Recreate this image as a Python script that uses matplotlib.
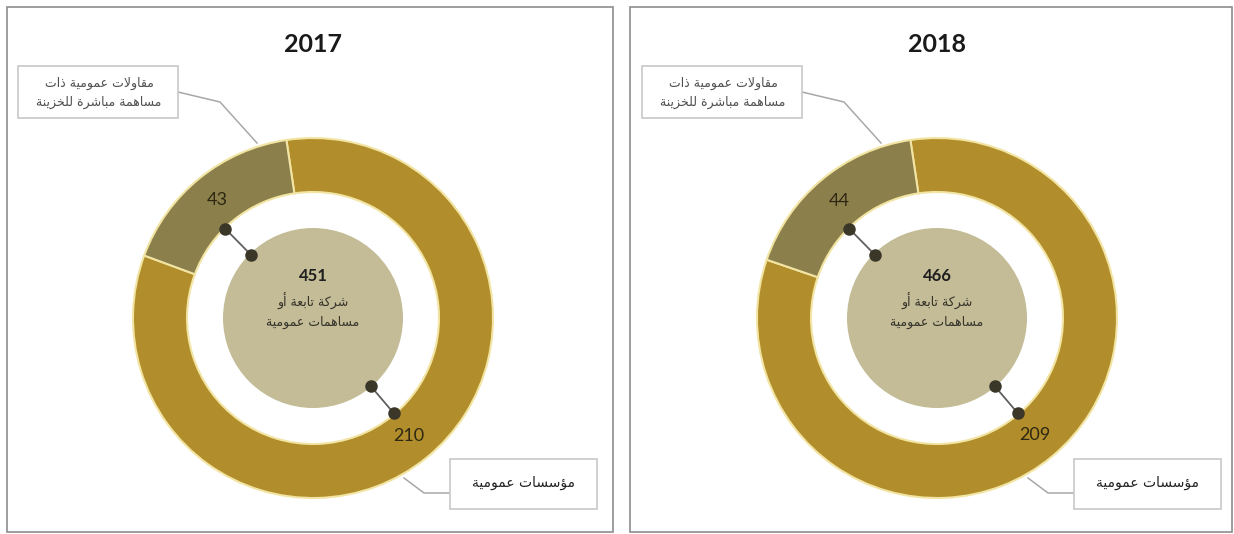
import matplotlib
matplotlib.use("Agg")
import matplotlib.pyplot as plt
from matplotlib.patches import Circle, Rectangle
import math

# ---------------- data ----------------
years = ["2017", "2018"]
ring_labels = ["مؤسسات عمومية", "مقاولات عمومية ذات\nمساهمة مباشرة للخزينة"]
ring_values_2017 = [210, 43]
ring_values_2018 = [209, 44]
center_totals = [451, 466]
center_label = "شركة تابعة أو\nمساهمات عمومية"

# ---------------- simple Arabic shaping (matplotlib has no shaping) ----------------
FORMS = {
    'ا': ('\uFE8D', '\uFE8E', None, None),
    'أ': ('\uFE83', '\uFE84', None, None),
    'ؤ': ('\uFE85', '\uFE86', None, None),
    'ب': ('\uFE8F', '\uFE90', '\uFE91', '\uFE92'),
    'ة': ('\uFE93', '\uFE94', None, None),
    'ت': ('\uFE95', '\uFE96', '\uFE97', '\uFE98'),
    'خ': ('\uFEA5', '\uFEA6', '\uFEA7', '\uFEA8'),
    'ذ': ('\uFEAB', '\uFEAC', None, None),
    'ر': ('\uFEAD', '\uFEAE', None, None),
    'ز': ('\uFEAF', '\uFEB0', None, None),
    'س': ('\uFEB1', '\uFEB2', '\uFEB3', '\uFEB4'),
    'ش': ('\uFEB5', '\uFEB6', '\uFEB7', '\uFEB8'),
    'ع': ('\uFEC9', '\uFECA', '\uFECB', '\uFECC'),
    'ق': ('\uFED5', '\uFED6', '\uFED7', '\uFED8'),
    'ك': ('\uFED9', '\uFEDA', '\uFEDB', '\uFEDC'),
    'ل': ('\uFEDD', '\uFEDE', '\uFEDF', '\uFEE0'),
    'م': ('\uFEE1', '\uFEE2', '\uFEE3', '\uFEE4'),
    'ن': ('\uFEE5', '\uFEE6', '\uFEE7', '\uFEE8'),
    'ه': ('\uFEE9', '\uFEEA', '\uFEEB', '\uFEEC'),
    'و': ('\uFEED', '\uFEEE', None, None),
    'ي': ('\uFEF1', '\uFEF2', '\uFEF3', '\uFEF4'),
    'LA': ('\uFEFB', '\uFEFC', None, None),
}


def shape_line(s):
    toks = []
    i = 0
    while i < len(s):
        if s[i] == 'ل' and i + 1 < len(s) and s[i + 1] == 'ا':
            toks.append('LA')
            i += 2
        else:
            toks.append(s[i])
            i += 1
    out = []
    for k, t in enumerate(toks):
        if t not in FORMS:
            out.append(t)
            continue
        f = FORMS[t]
        prev = toks[k - 1] if k > 0 else None
        nxt = toks[k + 1] if k + 1 < len(toks) else None
        jp = prev in FORMS and FORMS[prev][2] is not None
        jn = nxt in FORMS and f[2] is not None
        if jp and jn:
            g = f[3]
        elif jp:
            g = f[1]
        elif jn:
            g = f[2]
        else:
            g = f[0]
        out.append(g)
    return ''.join(out)[::-1]


def ar(s):
    return '\n'.join(shape_line(line) for line in s.split('\n'))


# ---------------- styling ----------------
W, H = 1234, 534
GOLD = '#B18D2B'
OLIVE = '#8B7F4C'
CENTER = '#C3BC97'
EDGE = '#F2E4A2'
DOT = '#3A3628'
AR_FONT = ['DejaVu Sans']
NUM_FONT = ['Lato', 'DejaVu Sans']

fig = plt.figure(figsize=(W / 100, H / 100), dpi=100)
ax = fig.add_axes([0, 0, 1, 1])


def Y(y):
    return H - y


panels = [
    dict(x0=7, x1=613, cx=313),
    dict(x0=630, x1=1232, cx=937),
]
series = [ring_values_2017, ring_values_2018]

for p, year, vals, total in zip(panels, years, series, center_totals):
    cx, cy = p['cx'], 318
    # panel frame
    ax.add_patch(Rectangle((p['x0'], Y(532)), p['x1'] - p['x0'], 525,
                           fill=False, edgecolor='#8C8C8C', linewidth=1.2))
    # title
    ax.text(cx, Y(45), year, ha='center', va='center', fontsize=18,
            fontweight='bold', family=NUM_FONT, color='#1A1A1A')
    # donut
    tot = sum(vals)
    ax.pie(vals, radius=180, center=(cx, Y(cy)), startangle=98.5,
           counterclock=False, colors=[GOLD, OLIVE],
           wedgeprops=dict(width=54, edgecolor=EDGE, linewidth=1.5),
           autopct=lambda pc, t=tot: f"{round(pc * t / 100)}",
           pctdistance=0.845,
           textprops=dict(fontsize=13, family=NUM_FONT, color='#2E2812'))
    # center circle
    ax.add_patch(Circle((cx, Y(cy)), 90, facecolor=CENTER, edgecolor='none'))
    ax.text(cx, Y(276), f"{total}", ha='center', va='center', fontsize=12,
            fontweight='bold', family=NUM_FONT, color='#1E1E1E')
    ax.text(cx, Y(311), ar(center_label), ha='center', va='center',
            fontsize=9, family=AR_FONT, color='#34322A', linespacing=1.6)
    # connectors
    for ang in (134.5, -49.7):
        a = math.radians(ang)
        xs = [cx + 125 * math.cos(a), cx + 89 * math.cos(a)]
        ys = [Y(cy) + 125 * math.sin(a), Y(cy) + 89 * math.sin(a)]
        ax.plot(xs, ys, color='#606060', linewidth=1.3, zorder=5)
        ax.plot(xs, ys, 'o', color=DOT, markersize=8, zorder=6)
    # left callout box
    off = cx - 313
    ax.add_patch(Rectangle((18 + off, Y(118)), 160, 52, facecolor='white',
                           edgecolor='#C8C8C8', linewidth=1.2, zorder=3))
    ax.text(99 + off, Y(93), ar(ring_labels[1]), ha='center', va='center',
            fontsize=9, family=AR_FONT, color='#505050', linespacing=1.5, zorder=4)
    ax.plot([178 + off, 220 + off, 257 + off], [Y(92), Y(102), Y(143)],
            color='#A8A8A8', linewidth=1.1, zorder=2)
    # right callout box
    ax.add_patch(Rectangle((450 + off, Y(509)), 147, 50, facecolor='white',
                           edgecolor='#C8C8C8', linewidth=1.2, zorder=3))
    ax.text(524 + off, Y(483), ar(ring_labels[0]), ha='center', va='center',
            fontsize=10, family=AR_FONT, color='#202020', zorder=4)
    ax.plot([450 + off, 424 + off, 404 + off], [Y(493), Y(493), Y(478)],
            color='#A8A8A8', linewidth=1.1, zorder=2)

ax.set_xlim(0, W)
ax.set_ylim(0, H)
ax.set_aspect('equal')
ax.axis('off')
fig.savefig('out.png', dpi=100, facecolor='white')
